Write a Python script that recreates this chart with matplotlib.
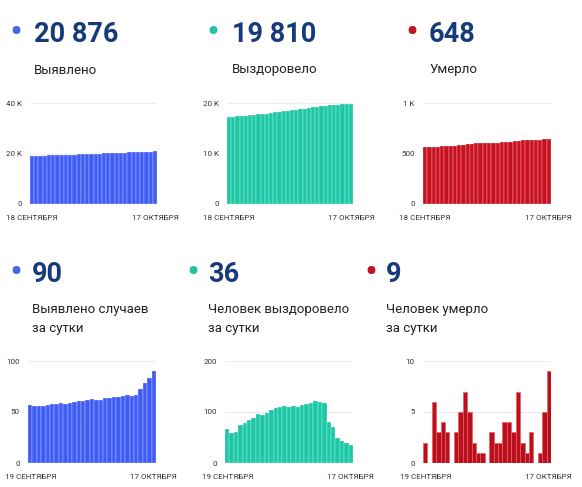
import matplotlib
matplotlib.use('Agg')
import matplotlib.pyplot as plt
import numpy as np

plt.rcParams['font.family'] = ['Roboto', 'DejaVu Sans']

# накопленные значения, 18 сентября - 17 октября
cum_found = [19023, 19080, 19136, 19192, 19248, 19305, 19363, 19421, 19480, 19538,
             19597, 19657, 19718, 19779, 19841, 19904, 19966, 20028, 20092, 20156,
             20221, 20286, 20352, 20419, 20485, 20552, 20625, 20703, 20786, 20876]
cum_recovered = [17218, 17285, 17343, 17404, 17478, 17557, 17641, 17730, 17826, 17920,
                 18019, 18123, 18230, 18340, 18452, 18561, 18673, 18783, 18897, 19013,
                 19131, 19253, 19373, 19490, 19570, 19641, 19691, 19734, 19774, 19810]
cum_died = [560, 562, 562, 568, 571, 575, 578, 578, 581, 586,
            593, 598, 600, 601, 602, 602, 605, 607, 609, 613,
            617, 620, 627, 629, 630, 633, 633, 634, 639, 648]

# за сутки, 19 сентября - 17 октября
day_found = [57, 56, 56, 56, 57, 58, 58, 59, 58, 59, 60, 61, 61, 62, 63,
             62, 62, 64, 64, 65, 65, 66, 67, 66, 67, 73, 78, 83, 90]
day_recovered = [67, 58, 61, 74, 79, 84, 89, 96, 94, 99, 104, 107, 110, 112, 109,
                 112, 110, 114, 116, 118, 122, 120, 117, 80, 71, 50, 43, 40, 36]
day_died = [2, 0, 6, 3, 4, 3, 0, 3, 5, 7, 5, 2, 1, 1, 0,
            3, 2, 2, 4, 4, 3, 7, 2, 1, 3, 0, 1, 5, 9]

top_dates = ['18 СЕНТЯБРЯ', '17 ОКТЯБРЯ']
bottom_dates = ['19 СЕНТЯБРЯ', '17 ОКТЯБРЯ']

BLUE = '#3f5cf4'
TEAL = '#1cc8a5'
RED = '#c8101e'
NAVY = '#163a7a'

W, H = 582, 487
fig = plt.figure(figsize=(W / 100, H / 100), dpi=100)


def px(x, y):
    return x / W, 1 - y / H


def header(dot_x, num_x, y, color, number, label, label_y):
    fig.text(*px(dot_x, y), '•', color=color, fontsize=28, ha='center', va='center')
    fig.text(*px(num_x, y + 1), number, color=NAVY, fontsize=19.5, fontweight='bold',
             ha='left', va='center')
    fig.text(*px(num_x, label_y), label, color='#222222', fontsize=9.5,
             ha='left', va='center', linespacing=1.55)


def chart(left, right, top, bottom, values, ymax, yticks, ylabels, dates,
          color, edge=(1, 1, 1, 0.55), lw=0.35):
    x0, y1 = px(left, top)
    x1, y0 = px(right, bottom)
    ax = fig.add_axes([x0, y0, x1 - x0, y1 - y0])
    x = np.arange(len(values))
    ax.bar(x, values, width=1.0, color=color, edgecolor=edge, linewidth=lw, zorder=2)
    ax.set_xlim(-0.5, len(values) - 0.5)
    ax.set_ylim(0, ymax)
    ax.set_yticks(yticks)
    ax.set_yticklabels(ylabels)
    ax.set_xticks([0, len(values) - 1])
    ax.set_xticklabels(dates)
    ax.tick_params(length=0, labelsize=5.8, colors='#333333')
    ax.tick_params(axis='y', pad=6)
    ax.tick_params(axis='x', pad=8)
    ax.grid(axis='y', color='#ececec', linewidth=0.8, zorder=0)
    for s in ax.spines.values():
        s.set_visible(False)
    return ax


# верхний ряд
header(16, 34, 34, '#4169e1', '20 876', 'Выявлено', 70)
header(213, 232, 34, '#22c3a0', '19 810', 'Выздоровело', 70)
header(412, 429, 34, '#c0141e', '648', 'Умерло', 70)

chart(30, 157, 103, 204, cum_found, 40000, [0, 20000, 40000], ['0', '20 K', '40 K'],
      top_dates, BLUE)
chart(227, 353, 103, 204, cum_recovered, 20000, [0, 10000, 20000], ['0', '10 K', '20 K'],
      top_dates, TEAL)
chart(423, 551, 103, 204, cum_died, 1000, [0, 500, 1000], ['0', '500', '1 K'],
      top_dates, RED)

# нижний ряд
header(16, 32, 273, '#4169e1', '90', 'Выявлено случаев\nза сутки', 319)
header(193, 208, 273, '#22c3a0', '36', 'Человек выздоровело\nза сутки', 319)
header(371, 386, 273, '#c0141e', '9', 'Человек умерло\nза сутки', 319)

chart(28, 156, 361, 463, day_found, 100, [0, 50, 100], ['0', '50', '100'],
      bottom_dates, BLUE)
chart(225, 353, 361, 463, day_recovered, 200, [0, 100, 200], ['0', '100', '200'],
      bottom_dates, TEAL)
chart(423, 551, 361, 463, day_died, 10, [0, 5, 10], ['0', '5', '10'],
      bottom_dates, '#b8101c', edge='#ee5a64', lw=0.5)

fig.savefig('out.png', dpi=100)
